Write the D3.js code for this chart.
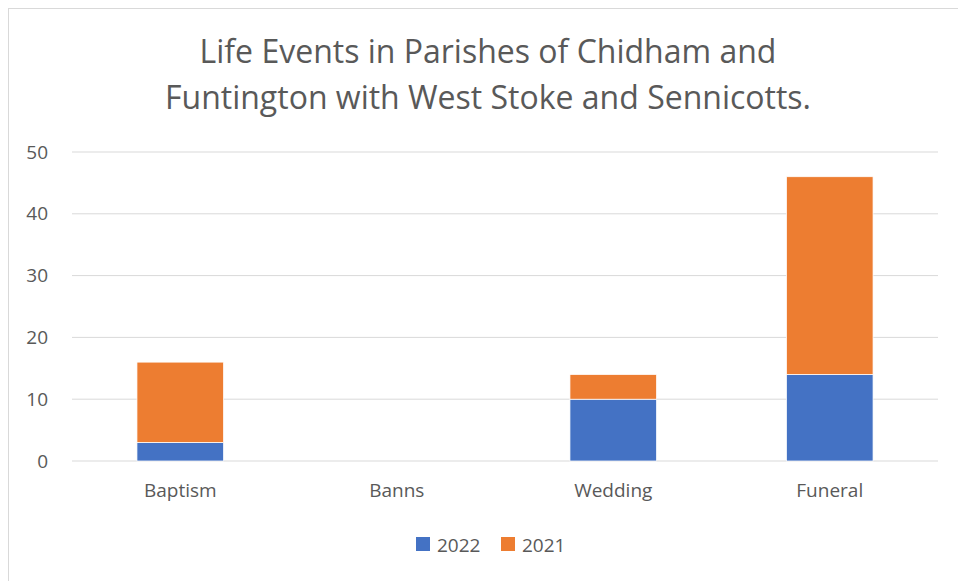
<!DOCTYPE html>
<html>
<head>
<meta charset="utf-8">
<script src="https://cdn.jsdelivr.net/npm/d3@7"></script>
<style>
  body { margin: 0; background: #fff; }
  text { font-family: 'Open Sans', sans-serif; fill: #595959; }
</style>
</head>
<body>
<div id="chart"></div>
<script>
const categories = ['Baptism', 'Banns', 'Wedding', 'Funeral']
const seriesNames = ['2022', '2021']
const values2022 = [3, 0, 10, 14]
const values2021 = [13, 0, 4, 32]
const yTicks = [0, 10, 20, 30, 40, 50]
const colors = ['#4472C4', '#ED7D31']

const width = 958
const height = 581
const margin = { top: 152, left: 72, right: 20, bottom: 120 }

const svg = d3
  .select('#chart')
  .append('svg')
  .attr('width', width)
  .attr('height', height)

// chart border
svg
  .append('rect')
  .attr('x', 8.5)
  .attr('y', 8.5)
  .attr('width', 970)
  .attr('height', 600)
  .attr('fill', 'none')
  .attr('stroke', '#d9d9d9')

const x = d3
  .scaleBand()
  .domain(categories)
  .range([margin.left, width - margin.right])
  .paddingInner(0.6)
  .paddingOuter(0.3)

const y = d3
  .scaleLinear()
  .domain([0, 50])
  .range([height - margin.bottom, margin.top])

// gridlines
svg
  .selectAll('.grid')
  .data(yTicks)
  .enter()
  .append('line')
  .attr('class', 'grid')
  .attr('x1', margin.left)
  .attr('x2', width - margin.right)
  .attr('y1', d => y(d))
  .attr('y2', d => y(d))
  .attr('stroke', '#d9d9d9')
  .attr('stroke-width', 1)

const yAxis = svg
  .append('g')
  .attr('transform', 'translate(' + margin.left + ',0)')
  .call(d3.axisLeft(y).tickValues(yTicks).tickSize(0).tickPadding(24))
yAxis.select('.domain').remove()
yAxis.selectAll('text').attr('font-size', 19).attr('fill', '#595959')

const xAxis = svg
  .append('g')
  .attr('transform', 'translate(0,' + y(0) + ')')
  .call(d3.axisBottom(x).tickSize(0).tickPadding(23))
xAxis.select('.domain').remove()
xAxis.selectAll('text').attr('font-size', 19).attr('fill', '#595959')

const rows = categories.map((c, i) => ({
  category: c,
  '2022': values2022[i],
  '2021': values2021[i]
}))
const stacked = d3.stack().keys(seriesNames)(rows)

svg
  .selectAll('.series')
  .data(stacked)
  .enter()
  .append('g')
  .attr('class', 'series')
  .attr('fill', (d, i) => colors[i])
  .selectAll('rect')
  .data(d => d.filter(p => p[1] - p[0] > 0))
  .enter()
  .append('rect')
  .attr('x', d => x(d.data.category))
  .attr('width', x.bandwidth())
  .attr('y', d => y(d[1]))
  .attr('height', d => y(d[0]) - y(d[1]))
  .attr('stroke', '#fff')
  .attr('stroke-width', 0.75)

// title
const titleLines = [
  'Life Events in Parishes of Chidham and',
  'Funtington with West Stoke and Sennicotts.'
]
svg
  .selectAll('.title')
  .data(titleLines)
  .enter()
  .append('text')
  .attr('class', 'title')
  .attr('x', 488)
  .attr('y', (d, i) => 63 + i * 46)
  .attr('text-anchor', 'middle')
  .attr('font-size', 32)
  .text(d => d)

// legend
const legend = svg
  .selectAll('.legend')
  .data(seriesNames)
  .enter()
  .append('g')
  .attr('class', 'legend')
  .attr('transform', (d, i) => 'translate(' + (416 + i * 85) + ',537)')

legend
  .append('rect')
  .attr('width', 14)
  .attr('height', 14)
  .attr('fill', (d, i) => colors[i])

legend
  .append('text')
  .attr('x', 21)
  .attr('y', 15)
  .attr('font-size', 19)
  .text(d => d)
</script>
</body>
</html>
